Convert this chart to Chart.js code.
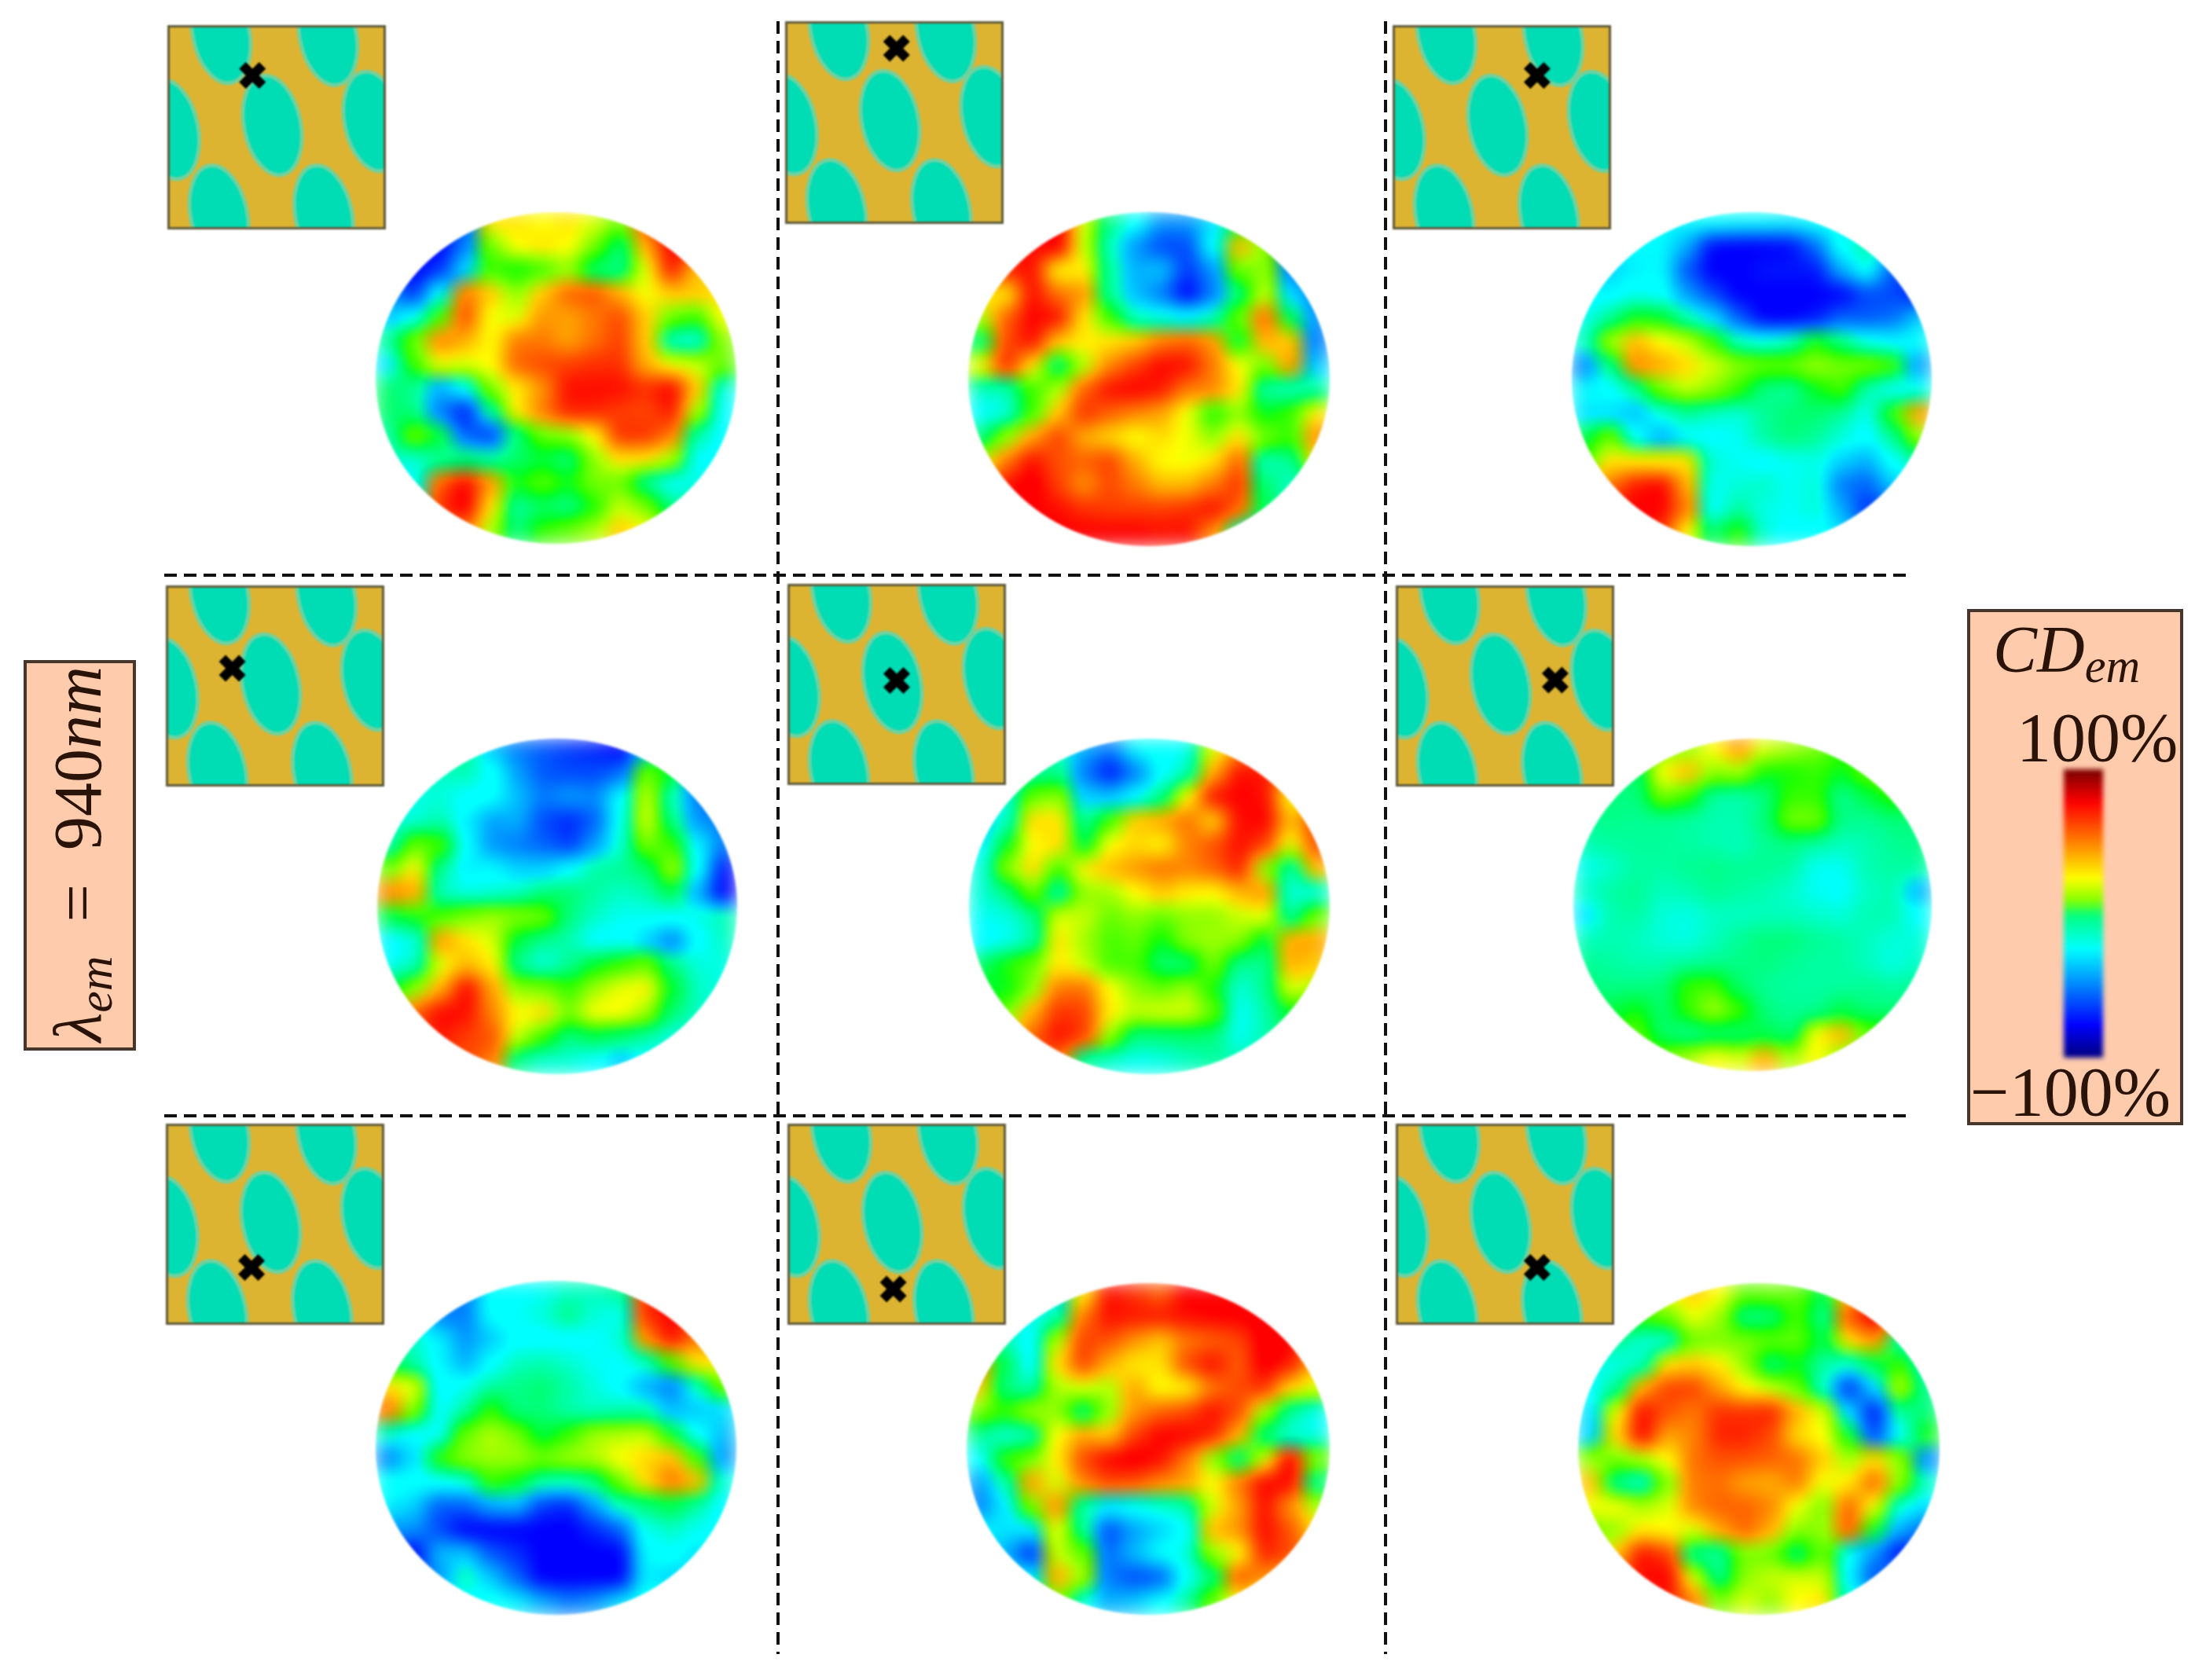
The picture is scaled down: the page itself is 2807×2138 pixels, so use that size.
<!DOCTYPE html>
<html>
<head>
<meta charset="utf-8">
<script src="https://cdn.jsdelivr.net/npm/chart.js@4"></script>
<style>
  html, body { margin: 0; background: #fff; }
  #page { position: relative; width: 2807px; height: 2138px; overflow: hidden; }
  #page canvas { display: block; }
  .disc { position: absolute; filter: blur(1.5px); }
  .disc div { width: 100%; height: 100%; border-radius: 50%; overflow: hidden; }
  .disc canvas { filter: blur(12.5px) saturate(1.35); }
  .cell { position: absolute; box-sizing: border-box; border: 3px solid #5f5a3a; filter: blur(1px); background: #dcb432; }
  .panel { position: absolute; box-sizing: border-box; background: #ffcbad; border: 4px solid #46362c; }
  .txt { position: absolute; font-family: "Liberation Serif", serif; color: #2a140a; white-space: nowrap; filter: blur(0.7px); }
  .txt i span, .txt span.sub { font-size: 0.72em; position: relative; top: 0.22em; }
</style>
</head>
<body>
<div id="page"></div>
<script>
// CD_em maps, one per panel, 14 x 14 cells (percent)
const discA = [
  [-70,-70,-70,-60,30,30,25,30,20,10,60,75,70,60],
  [-70,-70,-80,-55,8,25,30,25,10,-2,40,75,70,50],
  [-60,-80,-70,-35,5,2,5,12,-2,-8,20,70,35,30],
  [-50,-70,-25,50,35,12,35,55,58,40,22,35,35,30],
  [-40,-25,5,60,22,20,45,42,50,60,35,8,5,25],
  [-8,8,50,40,25,50,50,42,52,62,35,-18,-22,12],
  [-35,5,22,20,25,55,60,62,65,65,40,22,18,8],
  [-2,-8,-45,-25,10,28,45,72,72,72,65,75,35,-20],
  [-2,-5,-55,-75,-10,28,50,68,68,62,60,70,15,-25],
  [-12,10,2,-60,-70,-5,8,12,25,65,65,50,-10,-28],
  [-15,-18,-10,-2,-10,-2,0,-5,12,30,30,15,-25,-25],
  [-25,-25,55,75,45,3,8,3,10,8,-8,-25,-20,-20],
  [-20,-20,65,78,30,-10,-2,-8,3,18,10,-5,-10,-10],
  [-10,-10,45,50,15,-5,5,8,15,35,25,10,5,5]
];
const discB = [
  [60,65,70,75,20,-5,-25,-50,-50,-35,0,10,-40,-50],
  [65,70,72,78,18,-15,-50,-65,-65,-25,40,12,-65,-70],
  [50,68,72,25,28,-8,-45,-40,-68,-50,8,12,-55,-65],
  [30,28,72,52,45,-8,-42,-55,-80,-55,-5,18,-35,-55],
  [15,55,75,72,30,5,-15,-20,-25,-15,8,55,0,-50],
  [-5,60,72,35,28,30,35,50,55,45,0,40,35,-55],
  [25,68,30,-5,15,48,62,74,72,50,25,8,45,-40],
  [-15,-12,5,15,55,72,75,70,50,48,30,-12,-15,-10],
  [-25,-20,5,35,65,55,48,42,22,3,12,2,5,28],
  [-5,12,42,62,40,32,22,32,22,12,30,10,5,48],
  [20,50,72,58,55,62,40,25,22,30,55,-15,-8,30],
  [40,72,78,62,45,60,50,38,38,50,65,-2,-15,-10],
  [60,70,75,72,65,62,62,62,65,72,55,0,-15,-15],
  [70,72,75,75,75,75,75,72,72,45,-15,-35,-20,-15]
];
const discC = [
  [-30,-30,-30,-30,-30,-28,-30,-30,-32,-28,-25,-25,-25,-25],
  [-30,-30,-30,-30,-45,-78,-82,-80,-78,-58,-25,-10,-35,-45],
  [-40,-38,-32,-30,-62,-82,-84,-75,-75,-75,-45,-22,-62,-75],
  [-30,-30,-22,-25,-48,-65,-80,-85,-85,-85,-85,-65,-65,-75],
  [-22,-8,3,2,-12,-35,-60,-82,-85,-75,-60,-62,-58,-40],
  [-15,15,38,25,18,5,-15,-22,-15,3,-5,-22,-30,-28],
  [-55,-5,48,42,32,20,12,8,8,14,10,10,6,-50],
  [-30,-28,-8,8,18,12,5,-6,-10,2,6,-12,-28,-22],
  [-35,-35,-42,-20,-8,-15,-18,-8,-3,-3,-8,-22,5,45],
  [0,8,-25,-45,-30,-25,-22,-10,-4,-8,-18,-28,-8,12],
  [5,30,28,25,30,-18,-22,-26,-22,-20,-38,-45,-25,-10],
  [30,50,70,75,40,-22,-18,-15,-22,-18,-55,-60,-40,-30],
  [50,70,75,75,50,-25,-10,-20,-22,-18,-45,-70,-60,-50],
  [60,70,70,65,25,-2,5,-18,-28,-25,-35,-55,-55,-50]
];
const discD = [
  [-20,-10,-10,-8,-40,-55,-62,-68,-72,-82,-40,-5,-60,-70],
  [-15,-15,-15,-12,-25,-48,-62,-65,-65,-58,8,2,-62,-70],
  [-22,-20,-18,-25,-28,-42,-55,-48,-52,-28,18,-15,-55,-65],
  [-20,-18,-12,-32,-48,-45,-65,-72,-60,-22,20,-5,-50,-55],
  [-15,8,6,-28,-50,-55,-60,-68,-48,-18,10,5,-30,-55],
  [8,28,-8,-32,-30,-38,-38,-28,-10,-8,-2,15,-25,-75],
  [50,42,-15,-20,-18,-14,-4,-2,-10,-15,-12,0,-45,-80],
  [0,3,6,10,14,12,10,-5,-15,-22,-22,-25,-20,-12],
  [-32,-20,45,30,20,0,-8,-12,-28,-25,-38,-55,-28,-15],
  [-22,-15,20,38,28,-8,-20,-8,2,5,8,-5,-18,-20],
  [0,12,40,75,42,12,10,5,14,22,28,2,-15,-20],
  [35,55,74,72,48,25,32,10,24,26,14,-3,-15,-20],
  [50,62,70,62,58,18,5,-5,0,-2,-10,-20,-20,-20],
  [60,62,62,60,50,-8,-18,-18,-25,-40,-28,-22,-22,-22]
];
const discE = [
  [-25,-22,-22,-15,-45,-55,-30,-25,-22,20,45,50,30,25],
  [-20,-18,-10,-6,-55,-75,-55,-28,-12,40,72,70,40,30],
  [-40,-20,8,12,-38,-40,-28,-5,25,72,75,72,22,30],
  [-40,-15,32,30,-8,5,35,42,52,32,72,75,38,62],
  [-32,2,25,32,0,25,32,26,48,58,72,62,20,60],
  [-20,12,32,5,28,38,45,52,48,55,68,12,-12,38],
  [-18,-5,8,-15,12,14,25,35,28,25,38,45,-18,-22],
  [-22,-20,-8,20,18,8,12,8,12,12,18,22,-10,8],
  [-32,-22,-12,30,14,6,8,2,12,14,12,0,42,42],
  [-2,4,8,28,18,6,6,-4,-4,10,-8,-8,40,35],
  [2,2,12,50,52,25,12,8,14,3,-18,-8,20,15],
  [0,10,40,65,62,28,18,20,20,8,-24,-12,2,2],
  [10,30,55,72,62,12,-5,-4,-2,-5,-22,-12,-5,-5],
  [30,50,60,50,-10,-18,-22,-20,-15,-10,-12,-12,-10,-10]
];
const discF = [
  [5,5,5,10,12,25,45,20,15,10,5,5,5,5],
  [-2,-2,-2,25,38,12,14,3,3,5,2,8,10,10],
  [-5,-5,-5,10,5,-10,-12,-6,5,5,-8,0,5,5],
  [-8,-6,-8,-8,-10,-12,-12,-4,10,10,-6,-8,-4,-5],
  [-12,-10,-9,-9,-10,-12,-14,-8,-6,-10,-14,-12,-8,-6],
  [-22,-16,-10,-10,-8,-6,-8,-8,-10,-22,-22,-12,-10,-10],
  [-15,-10,-8,-14,-12,-8,-10,-12,-16,-22,-24,-15,-12,-45],
  [-35,-12,-10,-18,-20,-15,-15,-14,-14,-16,-18,-12,-12,-25],
  [-14,-12,-14,-18,-20,-14,-8,-4,-4,-8,-10,-14,-18,-18],
  [-8,-10,-12,-12,-10,-8,-6,-5,-8,-10,-10,-14,-20,-15],
  [-5,-6,-6,-4,5,6,-2,-8,-10,-10,-10,-8,-10,-8],
  [-2,0,3,-3,5,15,6,-5,-8,-8,0,-4,-4,-3],
  [5,5,8,-2,-8,-2,-3,0,-4,25,40,8,5,5],
  [10,10,10,10,15,25,20,42,15,25,10,10,5,5]
];
const discG = [
  [-45,-45,-50,-55,-28,-25,-22,-16,-14,-8,65,72,55,40],
  [-30,-30,-55,-55,-28,-22,-18,-5,-18,-22,65,75,60,45],
  [-12,-15,-32,-50,-40,-28,-26,-26,-24,-18,45,72,50,40],
  [0,-12,-30,-45,-28,-14,-12,-16,-22,-24,-15,6,30,28],
  [30,22,-28,-22,-10,-6,-3,-10,-18,-30,-45,-55,-15,8],
  [55,10,-25,-10,5,-6,-4,-12,-15,-12,-12,-42,-40,-35],
  [-15,-30,-25,8,16,10,0,5,14,16,18,2,-25,-42],
  [-55,-35,5,12,14,14,10,14,16,25,32,38,5,-50],
  [-22,-28,-25,-20,5,2,-12,-15,-5,8,32,52,38,-18],
  [-32,-38,-62,-60,-45,-42,-68,-72,-48,-15,-4,0,-10,-28],
  [-50,-50,-65,-80,-88,-85,-88,-85,-72,-60,-22,-15,-22,-30],
  [-70,-80,-42,-40,-62,-70,-80,-88,-90,-88,-30,-25,-35,-35],
  [-70,-70,-50,-12,-40,-60,-85,-90,-90,-82,-32,-38,-38,-38],
  [-40,-40,-35,-30,-25,-32,-45,-55,-50,-35,-25,-25,-25,-25]
];
const discH = [
  [-30,-30,-30,-40,25,72,65,55,75,78,80,75,70,60],
  [-15,-15,-22,-12,50,72,70,70,72,74,75,78,75,60],
  [-10,-12,-30,15,62,58,45,35,50,55,60,85,75,50],
  [50,0,-30,30,62,40,28,30,60,72,55,82,70,35],
  [35,-5,-12,15,20,15,42,24,26,50,60,65,32,20],
  [10,5,15,12,-5,12,45,55,60,72,60,15,-8,-22],
  [-8,-20,-15,25,42,35,62,75,75,68,40,-5,-18,-22],
  [-28,5,8,28,60,75,78,72,50,12,-6,20,78,10],
  [-48,-12,45,18,48,60,58,48,42,25,50,74,74,-8],
  [-55,-32,8,48,-10,-30,-24,-18,-12,18,42,72,45,15],
  [-30,-35,-32,22,-8,-65,-48,-38,-28,38,45,72,58,30],
  [-30,-45,-72,18,8,-58,-42,-28,-18,12,22,68,60,40],
  [-20,-25,-30,42,15,-55,-65,-62,-25,-5,58,45,35,30],
  [-15,-15,-15,10,-20,-45,-40,-28,-10,8,25,20,20,20]
];
const discI = [
  [20,20,20,25,35,25,8,10,8,0,35,60,50,40],
  [5,5,5,8,22,14,-8,-6,6,-8,58,78,45,-10],
  [-8,-8,-18,-20,8,10,10,8,8,0,30,45,-15,-35],
  [-22,-20,-15,30,35,28,12,-5,2,-10,-18,0,5,-20],
  [-25,-8,40,62,62,42,25,18,8,-18,-72,-35,18,-8],
  [-35,22,72,58,50,65,65,68,40,20,-35,-75,-8,-5],
  [-38,32,75,42,48,68,68,60,32,24,2,-65,-28,4],
  [12,10,15,25,52,58,58,55,52,35,14,30,12,-55],
  [38,-8,-20,10,50,52,42,40,50,22,28,55,12,-15],
  [22,25,15,20,48,55,55,48,22,10,55,22,-20,-35],
  [10,12,28,25,20,42,55,40,12,12,58,2,-45,-60],
  [15,35,72,62,-8,-10,10,8,-5,8,-25,-50,-78,-70],
  [40,55,72,75,20,-8,12,18,20,18,-30,-65,-50,-40],
  [50,60,65,70,50,10,20,12,25,30,-15,-30,-30,-30]
];
const discs = [discA, discB, discC, discD, discE, discF, discG, discH, discI];

// hole centres of the unit cell and the probe position of each panel (percent of the cell)
const holeX = [48, 24, 74, 0, 95, 23, 72];
const holeY = [49, 3, 4, 51, 47, 94, 94];
const probeX = [38.7, 51, 66.5, 30, 50, 73.5, 39, 48.4, 65];
const probeY = [24, 12.5, 24, 41, 48, 47, 72, 83, 72];

const colorbarSteps = [100,95,90,85,80,75,70,65,60,55,50,45,40,35,30,25,20,15,10,5,0,
  -5,-10,-15,-20,-25,-30,-35,-40,-45,-50,-55,-60,-65,-70,-75,-80,-85,-90,-95,-100];

// divider lines of the 3 x 3 figure, in page pixels
const dividerX = [990, 1763];
const dividerY = [732, 1420];

// left, top, width, height of the pieces
const discBoxes = [
  [478,270,459,422],[1232,270,460,425],[2000,270,458,425],
  [480,940,458,427],[1233,940,459,427],[2002,940,456,423],
  [478,1630,459,425],[1230,1633,462,422],[2008,1633,460,422]
];
const cellBoxes = [
  [213,32,278,260],[999,27,278,258],[1772,32,278,260],
  [211,745,278,256],[1002,743,278,256],[1776,745,278,256],
  [211,1430,278,256],[1002,1430,278,256],[1776,1430,278,256]
];

const page = document.getElementById("page");
const GRID = 14;

const jetStops = [
  [-100, [0, 0, 143]], [-80, [0, 0, 255]], [-26, [0, 255, 255]], [-2, [0, 255, 128]],
  [8, [128, 255, 0]], [24, [255, 255, 0]], [50, [255, 128, 0]], [78, [255, 0, 0]], [100, [128, 0, 0]]
];

const jet = (v) => {
  for (let i = 1; i < jetStops.length; i++) {
    if (v <= jetStops[i][0]) {
      const a = jetStops[i - 1], b = jetStops[i];
      const f = (v - a[0]) / (b[0] - a[0]);
      const c = a[1].map((start, k) => Math.round(start + f * (b[1][k] - start)));
      return `rgb(${c.join(",")})`;
    }
  }
  return "rgb(128,0,0)";
};

const addCanvas = (parent, w, h) => {
  const canvas = document.createElement("canvas");
  canvas.width = w;
  canvas.height = h;
  canvas.style.width = w + "px";
  canvas.style.height = h + "px";
  parent.appendChild(canvas);
  return canvas;
};

const hiddenScale = (min, max, reverse) => ({ type: "linear", display: false, min, max, reverse });

const baseOptions = (scales) => ({
  responsive: false,
  animation: false,
  devicePixelRatio: 1,
  events: [],
  layout: { autoPadding: false },
  plugins: { legend: { display: false }, tooltip: { enabled: false } },
  scales,
});

const drawDisc = (values, box) => {
  const [left, top, w, h] = box;
  const outer = document.createElement("div");
  outer.className = "disc";
  outer.style.cssText = `left:${left}px;top:${top}px;width:${w}px;height:${h}px`;
  const inner = document.createElement("div");
  outer.appendChild(inner);
  page.appendChild(outer);

  const points = [];
  const colors = [];
  values.forEach((row, j) => row.forEach((v, i) => {
    points.push({ x: i, y: j });
    colors.push(jet(v));
  }));

  new Chart(addCanvas(inner, w, h), {
    type: "scatter",
    data: {
      datasets: [{
        data: points,
        pointStyle: "rect",
        pointRadius: (Math.max(w, h) / GRID / 2 + 1) * Math.SQRT2,
        backgroundColor: colors,
        borderWidth: 0,
        clip: false,
      }],
    },
    options: baseOptions({
      x: hiddenScale(-0.5, GRID - 0.5, false),
      y: hiddenScale(-0.5, GRID - 0.5, true),
    }),
  });
};

// one hole of the unit cell, used as the point image
const holeImage = () => {
  const c = document.createElement("canvas");
  c.width = 110;
  c.height = 150;
  const ctx = c.getContext("2d");
  ctx.translate(55, 75);
  ctx.rotate(-0.2);
  ctx.beginPath();
  ctx.ellipse(0, 0, 36, 64, 0, 0, Math.PI * 2);
  ctx.fillStyle = "#00dcb4";
  ctx.fill();
  ctx.lineWidth = 5;
  ctx.strokeStyle = "#6ed2a0";
  ctx.stroke();
  return c;
};
const hole = holeImage();

const drawCell = (box, px, py) => {
  const [left, top, w, h] = box;
  const div = document.createElement("div");
  div.className = "cell";
  div.style.cssText = `left:${left}px;top:${top}px;width:${w}px;height:${h}px`;
  page.appendChild(div);
  new Chart(addCanvas(div, w - 6, h - 6), {
    type: "scatter",
    data: {
      datasets: [
        {
          data: [{ x: px, y: py }],
          pointStyle: "crossRot",
          pointRadius: 18,
          borderColor: "#000",
          borderWidth: 12,
          order: 0,
        },
        {
          data: holeX.map((x, i) => ({ x, y: holeY[i] })),
          pointStyle: hole,
          pointRadius: 70,
          order: 1,
        },
      ],
    },
    options: baseOptions({ x: hiddenScale(0, 100, false), y: hiddenScale(0, 100, true) }),
  });
};

const drawDividers = () => {
  const dash = {
    showLine: true,
    pointRadius: 0,
    borderColor: "#111",
    borderWidth: 4,
    borderDash: [16, 9],
  };
  const datasets = [];
  dividerX.forEach((x) => datasets.push({ ...dash, data: [{ x, y: 27 }, { x, y: 2105 }] }));
  dividerY.forEach((y) => datasets.push({ ...dash, data: [{ x: 209, y }, { x: 2425, y }] }));
  const canvas = addCanvas(page, 2807, 2138);
  canvas.style.position = "absolute";
  canvas.style.left = "0";
  canvas.style.top = "0";
  new Chart(canvas, {
    type: "scatter",
    data: { datasets },
    options: baseOptions({ x: hiddenScale(0, 2807, false), y: hiddenScale(0, 2138, true) }),
  });
};

const addPanel = (left, top, w, h) => {
  const div = document.createElement("div");
  div.className = "panel";
  div.style.cssText = `left:${left}px;top:${top}px;width:${w}px;height:${h}px`;
  page.appendChild(div);
};

const addText = (html, left, top, size, rotate) => {
  const div = document.createElement("div");
  div.className = "txt";
  div.innerHTML = html;
  div.style.cssText = `left:${left}px;top:${top}px;font-size:${size}px;line-height:1`;
  if (rotate) {
    div.style.transformOrigin = "0 0";
    div.style.transform = `rotate(${rotate}deg)`;
  }
  page.appendChild(div);
};

const drawColorbar = () => {
  const wrap = document.createElement("div");
  wrap.style.cssText = "position:absolute;left:2626px;top:979px;width:50px;height:367px;filter:blur(3px)";
  page.appendChild(wrap);
  new Chart(addCanvas(wrap, 50, 367), {
    type: "bar",
    data: {
      labels: colorbarSteps,
      datasets: [{
        data: colorbarSteps.map(() => 1),
        backgroundColor: colorbarSteps.map(jet),
        barThickness: 11,
        borderWidth: 0,
      }],
    },
    options: {
      ...baseOptions({
        x: hiddenScale(0, 1, false),
        y: { type: "category", display: false },
      }),
      indexAxis: "y",
    },
  });
};

discs.forEach((values, i) => drawDisc(values, discBoxes[i]));
cellBoxes.forEach((box, i) => drawCell(box, probeX[i], probeY[i]));
drawDividers();

addPanel(30, 840, 143, 497);
addText('<i>λ<span>em</span></i>&nbsp; = &nbsp;940<i>nm</i>', 56, 1326, 86, -90);

addPanel(2503, 775, 275, 657);
addText('<i>CD<span>em</span></i>', 2536, 785, 84);
addText('100%', 2566, 895, 88);
addText('−100%', 2507, 1346, 88);
drawColorbar();
</script>
</body>
</html>
